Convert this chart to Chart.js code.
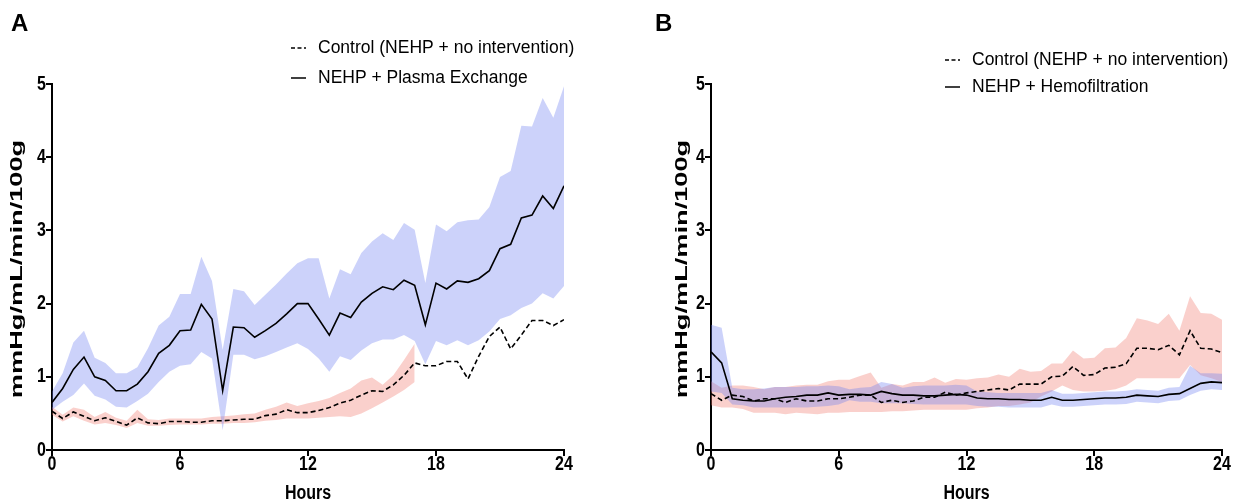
<!DOCTYPE html>
<html lang="en">
<head>
<meta charset="UTF-8">
<title>NEHP vascular resistance</title>
<script src="https://cdn.jsdelivr.net/npm/chart.js@4.4.1/dist/chart.umd.min.js"></script>
<style>
body { margin: 0; background: #fff; }
.panel { position: absolute; top: 0; width: 621px; height: 502px; }
#wrapA { left: 0; }
#wrapB { left: 621px; }
</style>
</head>
<body>

<div class="panel" id="wrapA"><canvas id="chartA"></canvas></div>
<div class="panel" id="wrapB"><canvas id="chartB"></canvas></div>

<script>
// time points (hours)
const hours = [0,0.5,1,1.5,2,2.5,3,3.5,4,4.5,5,5.5,6,6.5,7,7.5,8,8.5,9,9.5,10,10.5,11,11.5,12,
  12.5,13,13.5,14,14.5,15,15.5,16,16.5,17,17.5,18,18.5,19,19.5,20,20.5,21,21.5,22,22.5,23,23.5,24];
const xTicks = [0, 6, 12, 18, 24];
const yTicks = [0, 1, 2, 3, 4, 5];
const xTitle = 'Hours';
const yTitle = 'mmHg/mL/min/100g';

// panel A
const legendA = ["Control (NEHP + no intervention)", "NEHP + Plasma Exchange"];
const plasmaA = [0.65,0.84,1.10,1.27,1.00,0.95,0.81,0.81,0.90,1.07,1.32,1.43,1.63,1.64,1.99,1.79,0.81,1.68,1.67,1.54,1.63,1.73,1.86,2.00,2.00,
  1.79,1.57,1.87,1.81,2.02,2.14,2.23,2.19,2.32,2.25,1.71,2.28,2.20,2.31,2.29,2.34,2.45,2.75,2.81,3.17,3.21,3.47,3.30,3.61];
const plasmaHiA = [0.80,1.05,1.47,1.63,1.26,1.19,1.05,1.05,1.13,1.39,1.70,1.82,2.13,2.13,2.64,2.31,1.37,2.20,2.17,1.98,2.12,2.26,2.41,2.55,2.62,
  2.62,2.07,2.47,2.40,2.69,2.85,2.96,2.87,3.10,3.01,2.28,3.08,2.99,3.11,3.14,3.15,3.32,3.73,3.81,4.43,4.42,4.81,4.54,4.97];
const plasmaLoA = [0.55,0.66,0.75,0.91,0.74,0.69,0.59,0.58,0.67,0.77,0.93,1.07,1.15,1.17,1.34,1.25,0.27,1.30,1.30,1.24,1.28,1.34,1.40,1.46,1.38,
  1.25,1.07,1.28,1.23,1.36,1.46,1.51,1.51,1.57,1.49,1.17,1.49,1.43,1.50,1.43,1.50,1.62,1.79,1.84,1.94,2.00,2.14,2.07,2.24];
const controlA = [0.53,0.43,0.52,0.46,0.40,0.44,0.39,0.34,0.44,0.37,0.36,0.39,0.39,0.38,0.38,0.40,0.40,0.41,0.42,0.42,0.47,0.49,0.55,0.51,0.51,
  0.54,0.58,0.64,0.68,0.75,0.81,0.80,0.89,1.02,1.19,1.15,1.15,1.21,1.21,0.97,1.28,1.55,1.68,1.38,1.57,1.77,1.77,1.70,1.78];
// control SD band only drawn up to 17 h
const controlHiA = [0.59,0.48,0.58,0.55,0.45,0.52,0.44,0.40,0.55,0.42,0.41,0.43,0.43,0.43,0.43,0.45,0.46,0.47,0.49,0.50,0.55,0.59,0.65,0.60,0.64,
  0.67,0.71,0.78,0.84,0.95,0.99,0.89,1.02,1.23,1.45];
const controlLoA = [0.48,0.39,0.46,0.40,0.35,0.37,0.34,0.30,0.37,0.33,0.33,0.34,0.35,0.35,0.35,0.36,0.36,0.37,0.37,0.38,0.40,0.41,0.43,0.43,0.43,
  0.44,0.45,0.46,0.45,0.50,0.57,0.65,0.73,0.82,0.93];

// panel B
const legendB = ["Control (NEHP + no intervention)", "NEHP + Hemofiltration"];
const hemoB = [1.34,1.19,0.70,0.68,0.67,0.67,0.70,0.72,0.73,0.75,0.75,0.78,0.75,0.76,0.76,0.75,0.80,0.77,0.75,0.75,0.74,0.74,0.75,0.76,0.75,
  0.71,0.70,0.70,0.69,0.69,0.68,0.68,0.72,0.68,0.68,0.69,0.70,0.71,0.71,0.72,0.75,0.74,0.73,0.76,0.77,0.84,0.91,0.93,0.92];
const hemoHiB = [1.71,1.67,0.85,0.83,0.83,0.84,0.86,0.86,0.86,0.87,0.87,0.88,0.87,0.83,0.85,0.86,0.93,0.90,0.85,0.87,0.88,0.88,0.88,0.89,0.88,
  0.80,0.79,0.78,0.78,0.78,0.78,0.78,0.82,0.77,0.77,0.78,0.79,0.80,0.80,0.81,0.83,0.82,0.81,0.85,0.86,1.15,1.05,1.05,1.04];
const hemoLoB = [0.80,0.78,0.62,0.61,0.58,0.58,0.58,0.58,0.58,0.58,0.59,0.60,0.62,0.68,0.66,0.66,0.64,0.64,0.64,0.63,0.62,0.62,0.62,0.62,0.62,
  0.60,0.59,0.59,0.58,0.58,0.58,0.58,0.62,0.59,0.59,0.60,0.61,0.62,0.62,0.63,0.66,0.65,0.64,0.67,0.68,0.75,0.81,0.83,0.82];
const controlB = [0.77,0.68,0.75,0.73,0.67,0.70,0.70,0.65,0.70,0.67,0.67,0.70,0.70,0.72,0.75,0.75,0.65,0.68,0.65,0.67,0.72,0.72,0.79,0.75,0.78,
  0.80,0.82,0.84,0.82,0.90,0.90,0.90,1.00,1.01,1.14,1.02,1.03,1.12,1.13,1.18,1.39,1.39,1.37,1.43,1.30,1.63,1.39,1.38,1.33];
const controlHiB = [0.94,0.85,0.88,0.88,0.86,0.83,0.86,0.86,0.88,0.89,0.89,0.94,0.96,0.96,1.01,1.06,0.85,0.90,0.88,0.93,0.93,0.99,0.92,0.97,0.96,
  0.98,0.99,1.03,1.00,1.11,1.07,1.08,1.18,1.18,1.36,1.25,1.26,1.39,1.40,1.53,1.80,1.77,1.72,1.86,1.63,2.10,1.87,1.86,1.78];
const controlLoB = [0.61,0.58,0.58,0.56,0.51,0.51,0.51,0.49,0.51,0.50,0.49,0.51,0.51,0.52,0.52,0.52,0.52,0.53,0.53,0.54,0.55,0.55,0.55,0.55,0.55,
  0.57,0.58,0.60,0.60,0.62,0.65,0.73,0.80,0.88,0.82,0.80,0.80,0.81,0.83,0.88,0.98,0.98,0.98,0.98,0.98,1.16,1.02,0.98,0.93];

const FONT = '"Liberation Sans", Arial, sans-serif';
const BLUE_FILL = 'rgba(110,125,240,0.35)';
const RED_FILL = 'rgba(240,120,110,0.35)';
const STRETCH = 1.25;   // the source figure was squashed sideways: axis text is tall and narrow

function pts(arr) {
  return arr.map((v, i) => ({ x: hours[i], y: v }));
}

// draw a text scaled vertically around its own centre
function tallText(ctx, txt, x, y, align) {
  ctx.save();
  ctx.translate(x, y);
  ctx.scale(1, STRETCH);
  ctx.textAlign = align;
  ctx.fillText(txt, 0, 0);
  ctx.restore();
}

// panel letter, hand-placed legend, axis labels
const decorPlugin = {
  id: 'decor',
  afterDraw(chart, args, o) {
    const ctx = chart.ctx;
    const ca = chart.chartArea;
    const xs = chart.scales.x, ys = chart.scales.y;
    ctx.save();
    ctx.fillStyle = '#000';
    ctx.textBaseline = 'middle';
    ctx.font = 'bold 24px ' + FONT;
    ctx.fillText(o.letter, o.letterX, 24);
    ctx.font = '17.5px ' + FONT;
    o.labels.forEach((txt, i) => {
      const y = o.rows[i];
      ctx.beginPath();
      ctx.setLineDash(i === 0 ? [4, 2.5] : []);
      ctx.lineWidth = 1.5;
      ctx.strokeStyle = '#000';
      ctx.moveTo(o.lx, y);
      ctx.lineTo(o.lx + 15, y);
      ctx.stroke();
      ctx.fillText(txt, o.lx + 27, y);
    });

    // tick labels
    ctx.font = 'bold 16px ' + FONT;
    xTicks.forEach(v => tallText(ctx, String(v), xs.getPixelForValue(v), ca.bottom + 14, 'center'));
    yTicks.forEach(v => tallText(ctx, String(v), ca.left - 6, ys.getPixelForValue(v), 'right'));
    tallText(ctx, xTitle, (ca.left + ca.right) / 2, 493, 'center');

    // y title (long because of the same stretch)
    ctx.translate(o.titleX, (ca.top + ca.bottom) / 2 + 2);
    ctx.rotate(-Math.PI / 2);
    ctx.scale(1.7, 1);
    ctx.textAlign = 'center';
    ctx.font = 'bold 16px ' + FONT;
    ctx.fillText(yTitle, 0, 0);
    ctx.restore();
  }
};

function makeChart(id, d, cfg) {
  const datasets = [
    // SD bands first so they are painted on top of the control band (purple overlap)
    { data: pts(d.hi), borderWidth: 0, pointRadius: 0, backgroundColor: BLUE_FILL, fill: '+1' },
    { data: pts(d.lo), borderWidth: 0, pointRadius: 0, fill: false },
    { data: pts(d.chi), borderWidth: 0, pointRadius: 0, backgroundColor: RED_FILL, fill: '+1' },
    { data: pts(d.clo), borderWidth: 0, pointRadius: 0, fill: false },
    { data: pts(d.mean), borderColor: '#000', borderWidth: 1.6, pointRadius: 0, fill: false },
    { data: pts(d.ctrl), borderColor: '#000', borderWidth: 1.6, borderDash: [5, 3], pointRadius: 0, fill: false }
  ];

  return new Chart(document.getElementById(id), {
    type: 'line',
    data: { datasets: datasets },
    plugins: [decorPlugin],
    options: {
      responsive: true,
      maintainAspectRatio: false,
      animation: false,
      events: [],
      layout: { padding: { left: cfg.padLeft, right: cfg.padRight, top: 84, bottom: 0 } },
      plugins: {
        legend: { display: false },
        tooltip: { enabled: false },
        filler: { drawTime: 'beforeDatasetsDraw' },
        decor: cfg.decor
      },
      scales: {
        x: {
          type: 'linear',
          min: 0, max: 24,
          afterBuildTicks: s => { s.ticks = xTicks.map(v => ({ value: v })); },
          afterFit: s => { s.height = 52; },
          border: { color: '#000', width: 2 },
          grid: { drawOnChartArea: false, color: '#000', lineWidth: 2, tickLength: 6 },
          ticks: { display: false },
          title: { display: false }
        },
        y: {
          min: 0, max: 5,
          afterBuildTicks: s => { s.ticks = yTicks.map(v => ({ value: v })); },
          afterFit: s => { s.width = cfg.yWidth; },
          border: { color: '#000', width: 2 },
          grid: { drawOnChartArea: false, color: '#000', lineWidth: 2, tickLength: 6 },
          ticks: { display: false },
          title: { display: false }
        }
      }
    }
  });
}

makeChart('chartA',
  { hi: plasmaHiA, lo: plasmaLoA, chi: controlHiA, clo: controlLoA, mean: plasmaA, ctrl: controlA },
  { padLeft: 0, padRight: 57, yWidth: 52,
    decor: { letter: 'A', letterX: 11, labels: legendA, rows: [48, 78], lx: 291, titleX: 18 } });

makeChart('chartB',
  { hi: hemoHiB, lo: hemoLoB, chi: controlHiB, clo: controlLoB, mean: hemoB, ctrl: controlB },
  { padLeft: 44, padRight: 20, yWidth: 46,
    decor: { letter: 'B', letterX: 34, labels: legendB, rows: [60, 87], lx: 324, titleX: 62 } });
</script>
</body>
</html>
